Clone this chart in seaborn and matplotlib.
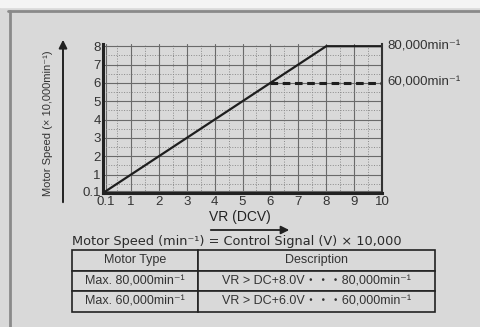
import numpy as np
import pandas as pd
import matplotlib
matplotlib.use("Agg")
import matplotlib.pyplot as plt
import seaborn as sns

# speed curves (x = VR in DCV, y = speed x 10,000 min-1)
vr_80k = [0.1, 8, 10]
speed_80k = [0.1, 8, 8]
vr_60k = [6, 10]
speed_60k = [6, 6]

x_ticks = [0.1, 1, 2, 3, 4, 5, 6, 7, 8, 9, 10]
x_labels = ["0.1", "1", "2", "3", "4", "5", "6", "7", "8", "9", "10"]
y_ticks = [0.1, 1, 2, 3, 4, 5, 6, 7, 8]
y_labels = ["0.1", "1", "2", "3", "4", "5", "6", "7", "8"]

table_header = ["Motor Type", "Description"]
table_rows = [
    ["Max. 80,000min⁻¹", "VR > DC+8.0V・・・80,000min⁻¹"],
    ["Max. 60,000min⁻¹", "VR > DC+6.0V・・・60,000min⁻¹"],
]

bg = "#d9d9d9"
sns.set_theme(style="white")
plt.rcParams['font.family'] = ['Liberation Sans', 'DejaVu Sans', 'Noto Sans CJK JP']

W, H = 480, 327
fig = plt.figure(figsize=(4.8, 3.27), dpi=100)
fig.patch.set_facecolor(bg)

def px(x0, y0, x1, y1):
    # pixel box (top-left origin) -> figure fraction
    return [x0 / W, 1 - y1 / H, (x1 - x0) / W, (y1 - y0) / H]

# outer frame
frame = fig.add_axes([0, 0, 1, 1], zorder=-1)
frame.set_xlim(0, W)
frame.set_ylim(H, 0)
frame.axis("off")
frame.fill_between([0, W], 0, 7, color="#f4f4f4")
frame.plot([8, W], [11, 11], color="#8a8a8a", lw=2)
frame.plot([10, 10], [11, H], color="#8a8a8a", lw=2)

ax = fig.add_axes(px(103, 44, 382, 193))
ax.set_facecolor(bg)
d1 = pd.DataFrame({"vr": vr_80k, "speed": speed_80k})
d2 = pd.DataFrame({"vr": vr_60k, "speed": speed_60k})
sns.lineplot(data=d1, x="vr", y="speed", ax=ax, color="#1e1e1e", lw=1.6)
sns.lineplot(data=d2, x="vr", y="speed", ax=ax, color="#1e1e1e", lw=2.2, linestyle=(0, (2.5, 1.5)))
ax.set_xlim(0, 10)
ax.set_ylim(0, 8.12)
ax.set_xticks(x_ticks, x_labels)
ax.set_yticks(y_ticks, y_labels)
ax.set_xticks(np.arange(0.5, 10, 1), minor=True)
ax.set_yticks(np.arange(0.5, 8, 1), minor=True)
ax.grid(True, which="major", color="#6a6a6a", lw=0.8)
ax.grid(True, which="minor", color="#8a8a8a", lw=0.7, linestyle=":")
ax.tick_params(labelsize=9.5, length=0, colors="#333333")
ax.tick_params(axis="x", pad=2.5)
ax.tick_params(axis="y", pad=1.5)
ax.set_xlabel("")
ax.set_ylabel("")
for s in ["left", "bottom"]:
    ax.spines[s].set_linewidth(2.2)
    ax.spines[s].set_color("#222222")
ax.spines["right"].set_linewidth(1.5)
ax.spines["right"].set_color("#333333")
ax.spines["top"].set_visible(False)

ax.text(10.2, 8, "80,000min⁻¹", fontsize=9.5, va="center", ha="left", color="#333333")
ax.text(10.2, 6, "60,000min⁻¹", fontsize=9.5, va="center", ha="left", color="#333333")

# y-axis label with arrow
frame.annotate("", xy=(63, 37), xytext=(63, 205),
               arrowprops=dict(arrowstyle="-|>", color="#222222", lw=1.4))
frame.text(48, 123, "Motor Speed (× 10,000min⁻¹)", rotation=90, fontsize=8,
           ha="center", va="center", color="#333333")

# x-axis label with arrow
frame.text(240, 217, "VR (DCV)", fontsize=10, ha="center", va="center", color="#222222")
frame.annotate("", xy=(292, 230), xytext=(208, 230),
               arrowprops=dict(arrowstyle="-|>", color="#222222", lw=1.3))

frame.text(72, 242, "Motor Speed (min⁻¹) = Control Signal (V) × 10,000", fontsize=9.3,
           ha="left", va="center", color="#2a2a2a", family=['DejaVu Sans'])

# description table
tax = fig.add_axes(px(72, 250, 435, 312))
tax.axis("off")
tbl = tax.table(cellText=table_rows, colLabels=table_header, colWidths=[126 / 363, 237 / 363],
                cellLoc="center", bbox=[0, 0, 1, 1])
tbl.auto_set_font_size(False)
for (r, c), cell in tbl.get_celld().items():
    cell.set_facecolor(bg)
    cell.set_edgecolor("#222222")
    cell.set_linewidth(1.2)
    cell.get_text().set_fontsize(9)
    cell.get_text().set_color("#333333")

fig.savefig("out.png", dpi=100, facecolor=bg)
